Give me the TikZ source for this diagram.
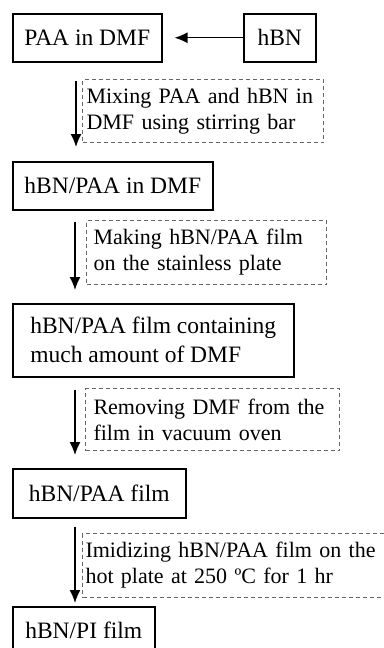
\documentclass[tikz,border=0pt]{standalone}
\usepackage{fontspec}
\setmainfont{Liberation Serif}
\usetikzlibrary{arrows.meta}

\begin{document}
\begin{tikzpicture}
        [x=1pt,y=-1pt,
        box/.style={draw,line width=1.5pt,anchor=north west,inner xsep=9pt,minimum height=48pt,align=left,font=\fontsize{23.5}{29}\selectfont},
        note/.style={draw=black!60,line width=1pt,dash pattern=on 4pt off 3pt,anchor=north west,align=left,font=\fontsize{22}{26}\selectfont},
        flow/.style={line width=1.4pt,-{Latex[length=13pt,width=11pt]}}]

        \useasboundingbox (0,0) rectangle (383,648);

        \node[box,minimum width=149pt] (b1) at (12,13) {PAA in DMF};
        \node[box,minimum width=72pt] (hbn) at (243,13) {hBN};
        \node[box,minimum width=200pt] (b2) at (12,161) {hBN/PAA in DMF};
        \node[box,minimum width=281pt,minimum height=73pt] (b3) at (12,303) {hBN/PAA film containing\\much amount of DMF};
        \node[box,minimum width=173pt,minimum height=49pt] (b4) at (12,468) {hBN/PAA film};
        \node[box,minimum width=142pt] (b5) at (12,606) {hBN/PI film};

        \node[note,text width=233pt,inner xsep=4pt,minimum height=63pt] (n1) at (82,79) {Mixing PAA and hBN in\\DMF using stirring bar};
        \node[note,text width=226pt,inner xsep=7pt,minimum height=64pt] (n2) at (86,220) {Making hBN/PAA film\\on the stainless plate};
        \node[note,text width=238pt,inner xsep=8pt,minimum height=62pt] (n3) at (85,388) {Removing DMF from the\\film in vacuum oven};
        \node[note,text width=312pt,inner xsep=3pt,minimum height=64pt] (n4) at (82,533) {Imidizing hBN/PAA film on the\\hot plate at 250 \textordmasculine C for 1 hr};

        \draw[flow,shorten >=12pt] (hbn.west) -- (b1.east);
        \draw[flow,shorten <=18pt,shorten >=14pt] ([xshift=64pt]b1.south west) -- ([xshift=64pt]b2.north west);
        \draw[flow,shorten <=11pt,shorten >=13pt] ([xshift=63pt]b2.south west) -- ([xshift=63pt]b3.north west);
        \draw[flow,shorten <=12pt,shorten >=13pt] ([xshift=63pt]b3.south west) -- ([xshift=63pt]b4.north west);
        \draw[flow,shorten <=8pt,shorten >=3pt] ([xshift=63pt]b4.south west) -- ([xshift=63pt]b5.north west);

      \end{tikzpicture}
\end{document}
